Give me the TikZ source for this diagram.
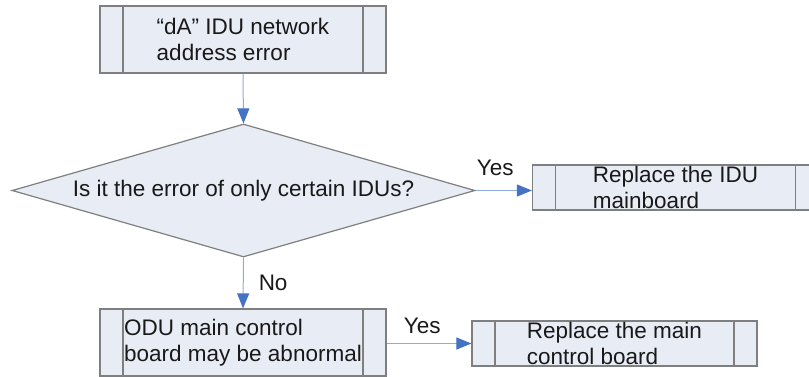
\documentclass[tikz,border=0pt]{standalone}
\usepackage{fontspec}
\setmainfont{Liberation Sans}
\usepackage{tikz}
\usetikzlibrary{arrows.meta,shapes.geometric}
\definecolor{boxfill}{HTML}{E8ECF5}
\definecolor{boxline}{HTML}{7F7F7F}
\definecolor{flowline}{HTML}{8FAADC}
\definecolor{flowtip}{HTML}{4472C4}

\begin{document}
\begin{tikzpicture}[x=1pt,y=-1pt]
\tikzstyle{every node}+=[inner sep=0pt, text=black!90, font=\fontsize{22.5}{26}\selectfont]
\tikzstyle{proc}=[draw=boxline, line width=1.2pt, fill=boxfill, minimum width=286pt, align=left,
  path picture={\draw [boxline, line width=1.2pt]
    ([xshift=23pt]path picture bounding box.north west) -- ([xshift=23pt]path picture bounding box.south west)
    ([xshift=-23pt]path picture bounding box.north east) -- ([xshift=-23pt]path picture bounding box.south east);}]
\tikzstyle{check}=[diamond, aspect=3.48, draw=boxline, line width=1.2pt, fill=boxfill, minimum width=463pt, minimum height=133pt]
\tikzstyle{flow}=[draw=flowline, line width=1pt, -{Triangle[length=15pt,width=12pt,color=flowtip]}]
\useasboundingbox (0,0) rectangle (809,376);
\node [proc, minimum height=67pt] (err) at (243,39.5) {“dA” IDU network\\address error};
\node [check] (only) at (243.5,190.5) {Is it the error of only certain IDUs?};
\node [proc, minimum height=45pt] (idu) at (675.5,187.5) {Replace the IDU\\mainboard};
\node [proc, minimum height=67pt] (odu) at (243,342.5) {ODU main control\\board may be abnormal};
\node [proc, minimum height=45pt, minimum width=285pt] (main) at (614.5,343.5) {Replace the main\\control board};
\draw [flow] (err.south) -- (only.north);
\draw [flow] (only.east) -- (only.east -| idu.west) node [pos=0.35, above=14pt] (yes1) {Yes};
\draw [flow] (only.south) -- (odu.north) node [midway, right=15pt] (no) {No};
\draw [flow] (odu.east |- main.west) -- (main.west) node [pos=0.42, above=9pt] (yes2) {Yes};
\end{tikzpicture}
\end{document}
